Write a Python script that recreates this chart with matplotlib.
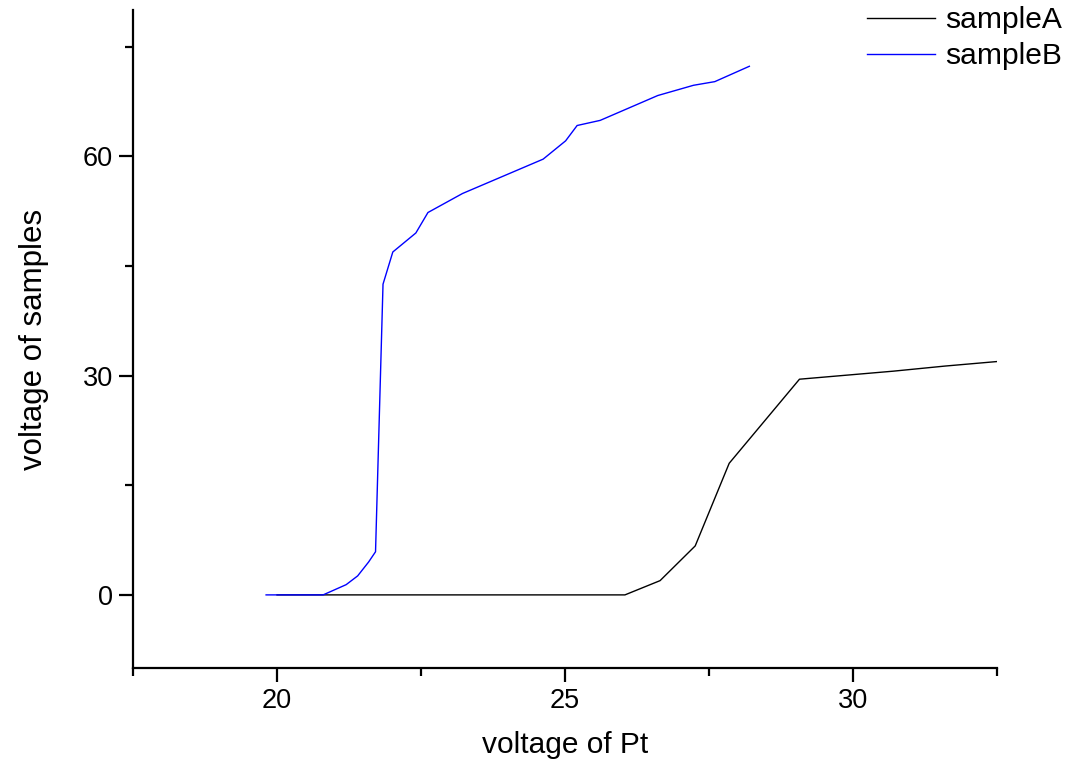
import numpy as np
import matplotlib
matplotlib.use('Agg')
from matplotlib import pyplot as plt
from matplotlib.ticker import MultipleLocator

# sample A: black curve
xa = [20.0, 25.4, 26.04, 26.65, 27.26, 27.85, 29.07, 30.7, 31.6, 32.55]
ya = [0.0, 0.0, 0.0, 1.95, 6.7, 18.0, 29.5, 30.6, 31.3, 31.95]

# sample B: blue curve
xb = [19.81, 20.2, 20.8, 21.2, 21.4, 21.59, 21.71, 21.84, 22.01, 22.41, 22.62,
      23.22, 24.62, 25.01, 25.21, 25.61, 26.61, 27.23, 27.60, 28.20]
yb = [0.0, 0.0, 0.0, 1.4, 2.6, 4.5, 5.9, 42.5, 46.9, 49.5, 52.3,
      54.9, 59.6, 62.1, 64.2, 64.9, 68.3, 69.7, 70.2, 72.3]

plt.rcParams['font.family'] = ['Liberation Sans', 'DejaVu Sans']

fig = plt.figure(figsize=(10.66, 7.68), dpi=100)
ax = fig.add_axes([0.1248, 0.1302, 0.8105, 0.8568])

ax.plot(xa, ya, color='black', lw=1.0, label='sampleA')
ax.plot(xb, yb, color='#0000ff', lw=1.0, label='sampleB')

ax.set_xlim(17.5, 32.5)
ax.set_ylim(-10, 80)
ax.xaxis.set_major_locator(MultipleLocator(5))
ax.xaxis.set_minor_locator(MultipleLocator(2.5))
ax.yaxis.set_major_locator(MultipleLocator(30))
ax.yaxis.set_minor_locator(MultipleLocator(15))

for side in ('top', 'right'):
    ax.spines[side].set_visible(False)
for side in ('left', 'bottom'):
    ax.spines[side].set_linewidth(1.6)

ax.tick_params(which='major', direction='out', length=10, width=1.6,
               labelsize=19.5, pad=4.5)
ax.tick_params(which='minor', direction='out', length=5.5, width=1.6)

ax.set_xlabel('voltage of Pt', fontsize=21.5)
ax.set_ylabel('voltage of samples', fontsize=22.5)
ax.xaxis.set_label_coords(0.5, -0.096)
ax.yaxis.set_label_coords(-0.097, 0.5)

# legend sits in the top-right corner of the figure, outside the plot box
leg = ax.legend(loc='upper right', frameon=False, fontsize=21.6,
                handlelength=2.27, handletextpad=0.33, labelspacing=0.28,
                borderaxespad=0, borderpad=0,
                bbox_to_anchor=(1062 / 1066, 1 - 6 / 768),
                bbox_transform=fig.transFigure)

fig.savefig('out.png', dpi=100)
